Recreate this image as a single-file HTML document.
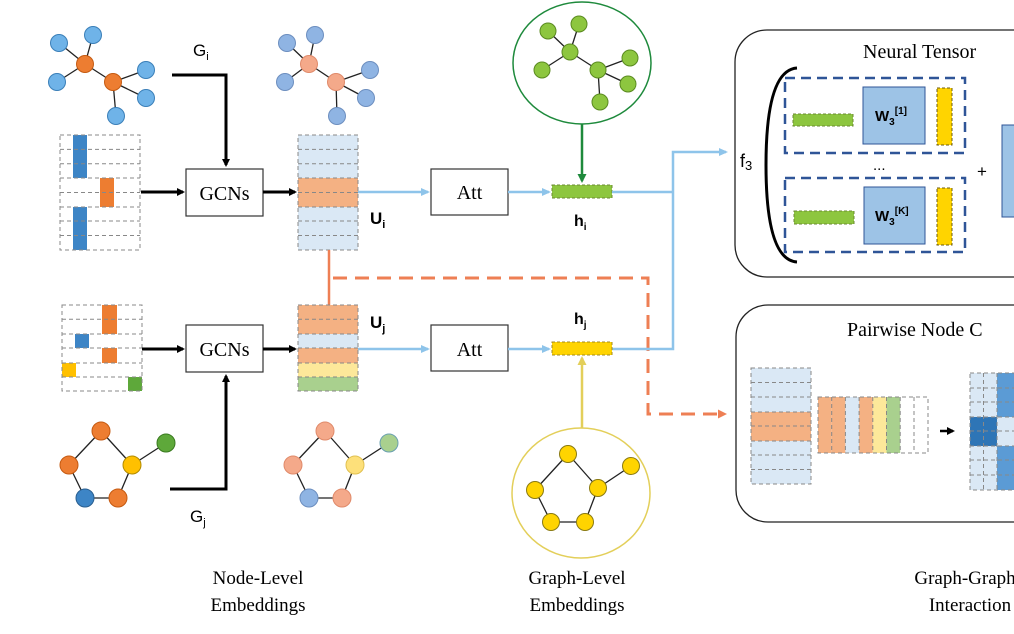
<!DOCTYPE html>
<html><head><meta charset="utf-8"><style>
html,body{margin:0;padding:0;background:#fff;width:1014px;height:634px;overflow:hidden}
svg{display:block}
.s{font-family:"Liberation Serif",serif}
.a{font-family:"Liberation Sans",sans-serif}
</style></head><body>
<svg width="1014" height="634" viewBox="0 0 1014 634" xmlns="http://www.w3.org/2000/svg">
<defs>
<marker id="ak" markerWidth="8" markerHeight="8" refX="6" refY="4" orient="auto" markerUnits="userSpaceOnUse"><path d="M0,0 L8,4 L0,8 z" fill="#000"/></marker>
<marker id="ab" markerWidth="9" markerHeight="8" refX="7" refY="4" orient="auto" markerUnits="userSpaceOnUse"><path d="M0,0 L9,4 L0,8 z" fill="#8ec4ea"/></marker>
<marker id="ag" markerWidth="9" markerHeight="9" refX="7" refY="4.5" orient="auto" markerUnits="userSpaceOnUse"><path d="M0,0 L9,4.5 L0,9 z" fill="#1e8a3c"/></marker>
<marker id="ay" markerWidth="9" markerHeight="9" refX="7" refY="4.5" orient="auto" markerUnits="userSpaceOnUse"><path d="M0,0 L9,4.5 L0,9 z" fill="#e3cf5a"/></marker>
<marker id="ao" markerWidth="9" markerHeight="9" refX="7" refY="4.5" orient="auto" markerUnits="userSpaceOnUse"><path d="M0,0 L9,4.5 L0,9 z" fill="#ee7f54"/></marker>
</defs>

<!-- top-left graph -->
<g stroke="#222" stroke-width="1.3">
<line x1="59" y1="43" x2="85" y2="64"/><line x1="93" y1="35" x2="85" y2="64"/><line x1="57" y1="82" x2="85" y2="64"/><line x1="85" y1="64" x2="113" y2="82"/><line x1="113" y1="82" x2="146" y2="70"/><line x1="113" y1="82" x2="146" y2="98"/><line x1="113" y1="82" x2="116" y2="116"/>
</g>
<g stroke="#3a7fb8" stroke-width="1" fill="#6fb3e8">
<circle cx="59" cy="43" r="8.5"/><circle cx="93" cy="35" r="8.5"/><circle cx="57" cy="82" r="8.5"/><circle cx="146" cy="70" r="8.5"/><circle cx="146" cy="98" r="8.5"/><circle cx="116" cy="116" r="8.5"/>
</g>
<g stroke="#c55a11" fill="#ed7d31"><circle cx="85" cy="64" r="8.5"/><circle cx="113" cy="82" r="8.5"/></g>

<!-- top-right graph -->
<g stroke="#222" stroke-width="1.3">
<line x1="287" y1="43" x2="309" y2="64"/><line x1="315" y1="35" x2="309" y2="64"/><line x1="285" y1="82" x2="309" y2="64"/><line x1="309" y1="64" x2="336" y2="82"/><line x1="336" y1="82" x2="370" y2="70"/><line x1="336" y1="82" x2="366" y2="98"/><line x1="336" y1="82" x2="337" y2="116"/>
</g>
<g stroke="#6c8ebf" fill="#8fb4e3">
<circle cx="287" cy="43" r="8.5"/><circle cx="315" cy="35" r="8.5"/><circle cx="285" cy="82" r="8.5"/><circle cx="370" cy="70" r="8.5"/><circle cx="366" cy="98" r="8.5"/><circle cx="337" cy="116" r="8.5"/>
</g>
<g stroke="#e08a6a" fill="#f4a98a"><circle cx="309" cy="64" r="8.5"/><circle cx="336" cy="82" r="8.5"/></g>

<!-- G_i -->
<text x="193" y="56" class="a" font-size="17">G<tspan font-size="11" dy="4">i</tspan></text>
<polyline points="172,75 226,75 226,165" fill="none" stroke="#000" stroke-width="3" marker-end="url(#ak)"/>

<!-- left top matrix -->
<g>
<rect x="73" y="135" width="14" height="43" fill="#3d85c6"/>
<rect x="73" y="207" width="14" height="43" fill="#3d85c6"/>
<rect x="100" y="178" width="14" height="29" fill="#ed7d31"/>
<g stroke="#888" stroke-dasharray="4,3" fill="none" stroke-width="1">
<rect x="60" y="135" width="80" height="115"/>
<line x1="60" y1="149.4" x2="140" y2="149.4"/><line x1="60" y1="163.8" x2="140" y2="163.8"/><line x1="60" y1="178" x2="140" y2="178"/><line x1="60" y1="192.5" x2="140" y2="192.5"/><line x1="60" y1="207" x2="140" y2="207"/><line x1="60" y1="221" x2="140" y2="221"/><line x1="60" y1="235.5" x2="140" y2="235.5"/>
</g>
</g>
<line x1="141" y1="192" x2="183" y2="192" stroke="#000" stroke-width="3" marker-end="url(#ak)"/>
<rect x="186" y="169" width="77" height="47" fill="#fff" stroke="#333" stroke-width="1.2"/>
<text x="224.5" y="200" class="s" font-size="20" text-anchor="middle">GCNs</text>
<line x1="263" y1="192" x2="295" y2="192" stroke="#000" stroke-width="3" marker-end="url(#ak)"/>

<!-- Ui matrix -->
<rect x="298" y="135" width="60" height="115" fill="#dae8f5"/>
<rect x="298" y="178" width="60" height="29" fill="#f4b183"/>
<g stroke="#888" stroke-dasharray="4,3" fill="none">
<rect x="298" y="135" width="60" height="115"/>
<line x1="298" y1="149.4" x2="358" y2="149.4"/><line x1="298" y1="163.8" x2="358" y2="163.8"/><line x1="298" y1="178" x2="358" y2="178"/><line x1="298" y1="192.5" x2="358" y2="192.5"/><line x1="298" y1="207" x2="358" y2="207"/><line x1="298" y1="221" x2="358" y2="221"/><line x1="298" y1="235.5" x2="358" y2="235.5"/>
</g>
<text x="370" y="224" class="a" font-size="17" font-weight="bold">U<tspan font-size="11" dy="4">i</tspan></text>

<!-- orange dashed -->
<line x1="329" y1="250" x2="329" y2="307" stroke="#ee7f54" stroke-width="2.5"/>
<polyline points="333,278 648,278 648,414 725,414" fill="none" stroke="#ee7f54" stroke-width="3" stroke-dasharray="14,8" marker-end="url(#ao)"/>

<!-- att top -->
<line x1="358" y1="192" x2="428" y2="192" stroke="#8ec4ea" stroke-width="2.5" marker-end="url(#ab)"/>
<rect x="431" y="169" width="77" height="46" fill="#fff" stroke="#333" stroke-width="1.2"/>
<text x="469.5" y="199" class="s" font-size="20" text-anchor="middle">Att</text>
<line x1="508" y1="192" x2="549" y2="192" stroke="#8ec4ea" stroke-width="2.5" marker-end="url(#ab)"/>
<rect x="552" y="185" width="60" height="13" fill="#8dc63f" stroke="#6a8a30" stroke-dasharray="3,2"/>
<text x="574" y="226" class="a" font-size="16" font-weight="bold">h<tspan font-size="10" dy="4">i</tspan></text>
<polyline points="612,192 673,192" fill="none" stroke="#8ec4ea" stroke-width="2.5"/>
<polyline points="612,349 673,349 673,152 726,152" fill="none" stroke="#8ec4ea" stroke-width="2.5" marker-end="url(#ab)"/>

<!-- green circle -->
<ellipse cx="582" cy="63" rx="69" ry="61" fill="#fff" stroke="#1e8a3c" stroke-width="1.5"/>
<g stroke="#222" stroke-width="1.3">
<line x1="548" y1="31" x2="570" y2="52"/><line x1="579" y1="24" x2="570" y2="52"/><line x1="542" y1="70" x2="570" y2="52"/><line x1="570" y1="52" x2="598" y2="70"/><line x1="598" y1="70" x2="630" y2="58"/><line x1="598" y1="70" x2="628" y2="84"/><line x1="598" y1="70" x2="600" y2="102"/>
</g>
<g fill="#8dc63f" stroke="#5a8a20">
<circle cx="548" cy="31" r="8"/><circle cx="579" cy="24" r="8"/><circle cx="542" cy="70" r="8"/><circle cx="570" cy="52" r="8"/><circle cx="598" cy="70" r="8"/><circle cx="630" cy="58" r="8"/><circle cx="628" cy="84" r="8"/><circle cx="600" cy="102" r="8"/>
</g>
<line x1="582" y1="124" x2="582" y2="181" stroke="#1e8a3c" stroke-width="2.5" marker-end="url(#ag)"/>

<!-- bottom left matrix -->
<rect x="102" y="305" width="15" height="29" fill="#ed7d31"/>
<rect x="75" y="334" width="14" height="14" fill="#3d85c6"/>
<rect x="102" y="348" width="15" height="15" fill="#ed7d31"/>
<rect x="62" y="363" width="14" height="14" fill="#ffc000"/>
<rect x="128" y="377" width="14" height="14" fill="#5ea83a"/>
<g stroke="#888" stroke-dasharray="4,3" fill="none">
<rect x="62" y="305" width="80" height="86"/>
<line x1="62" y1="319.3" x2="142" y2="319.3"/><line x1="62" y1="334" x2="142" y2="334"/><line x1="62" y1="348" x2="142" y2="348"/><line x1="62" y1="363" x2="142" y2="363"/><line x1="62" y1="377" x2="142" y2="377"/>
</g>
<line x1="142" y1="349" x2="183" y2="349" stroke="#000" stroke-width="3" marker-end="url(#ak)"/>
<rect x="186" y="325" width="77" height="47" fill="#fff" stroke="#333" stroke-width="1.2"/>
<text x="224.5" y="356" class="s" font-size="20" text-anchor="middle">GCNs</text>
<line x1="263" y1="349" x2="295" y2="349" stroke="#000" stroke-width="3" marker-end="url(#ak)"/>
<polyline points="170,489 226,489 226,376" fill="none" stroke="#000" stroke-width="3" marker-end="url(#ak)"/>
<text x="190" y="522" class="a" font-size="17">G<tspan font-size="11" dy="4">j</tspan></text>

<!-- Uj -->
<rect x="298" y="305" width="60" height="29" fill="#f4b183"/>
<rect x="298" y="334" width="60" height="14" fill="#dae8f5"/>
<rect x="298" y="348" width="60" height="15" fill="#f4b183"/>
<rect x="298" y="363" width="60" height="14" fill="#fde89a"/>
<rect x="298" y="377" width="60" height="14" fill="#a9d08e"/>
<g stroke="#888" stroke-dasharray="4,3" fill="none">
<rect x="298" y="305" width="60" height="86"/>
<line x1="298" y1="319.3" x2="358" y2="319.3"/><line x1="298" y1="334" x2="358" y2="334"/><line x1="298" y1="348" x2="358" y2="348"/><line x1="298" y1="363" x2="358" y2="363"/><line x1="298" y1="377" x2="358" y2="377"/>
</g>
<text x="370" y="328" class="a" font-size="17" font-weight="bold">U<tspan font-size="11" dy="4">j</tspan></text>

<line x1="358" y1="349" x2="428" y2="349" stroke="#8ec4ea" stroke-width="2.5" marker-end="url(#ab)"/>
<rect x="431" y="325" width="77" height="46" fill="#fff" stroke="#333" stroke-width="1.2"/>
<text x="469.5" y="356" class="s" font-size="20" text-anchor="middle">Att</text>
<line x1="508" y1="349" x2="549" y2="349" stroke="#8ec4ea" stroke-width="2.5" marker-end="url(#ab)"/>
<rect x="552" y="342" width="60" height="13" fill="#ffd400" stroke="#a08a20" stroke-dasharray="3,2"/>
<text x="574" y="324" class="a" font-size="16" font-weight="bold">h<tspan font-size="10" dy="4">j</tspan></text>
<line x1="582" y1="428" x2="582" y2="358" stroke="#e3cf5a" stroke-width="2.5" marker-end="url(#ay)"/>

<!-- yellow circle -->
<ellipse cx="581" cy="493" rx="69" ry="65" fill="#fff" stroke="#e3cf5a" stroke-width="1.5"/>
<g stroke="#222" stroke-width="1.3">
<line x1="568" y1="454" x2="535" y2="490"/><line x1="568" y1="454" x2="598" y2="488"/><line x1="598" y1="488" x2="631" y2="466"/><line x1="535" y1="490" x2="551" y2="522"/><line x1="551" y1="522" x2="585" y2="522"/><line x1="585" y1="522" x2="598" y2="488"/>
</g>
<g fill="#ffd400" stroke="#8a7a10">
<circle cx="568" cy="454" r="8.5"/><circle cx="631" cy="466" r="8.5"/><circle cx="535" cy="490" r="8.5"/><circle cx="598" cy="488" r="8.5"/><circle cx="551" cy="522" r="8.5"/><circle cx="585" cy="522" r="8.5"/>
</g>

<!-- bottom-left graph -->
<g stroke="#222" stroke-width="1.3">
<line x1="101" y1="431" x2="69" y2="465"/><line x1="101" y1="431" x2="132" y2="465"/><line x1="132" y1="465" x2="166" y2="443"/><line x1="69" y1="465" x2="85" y2="498"/><line x1="85" y1="498" x2="118" y2="498"/><line x1="118" y1="498" x2="132" y2="465"/>
</g>
<circle cx="101" cy="431" r="9" fill="#ed7d31" stroke="#c55a11"/>
<circle cx="166" cy="443" r="9" fill="#5ea83a" stroke="#3a7a20"/>
<circle cx="69" cy="465" r="9" fill="#ed7d31" stroke="#c55a11"/>
<circle cx="132" cy="465" r="9" fill="#ffc000" stroke="#b08a00"/>
<circle cx="85" cy="498" r="9" fill="#3d85c6" stroke="#2a5f90"/>
<circle cx="118" cy="498" r="9" fill="#ed7d31" stroke="#c55a11"/>

<!-- bottom-right graph -->
<g stroke="#222" stroke-width="1.3">
<line x1="325" y1="431" x2="293" y2="465"/><line x1="325" y1="431" x2="355" y2="465"/><line x1="355" y1="465" x2="389" y2="443"/><line x1="293" y1="465" x2="309" y2="498"/><line x1="309" y1="498" x2="342" y2="498"/><line x1="342" y1="498" x2="355" y2="465"/>
</g>
<circle cx="325" cy="431" r="9" fill="#f4a98a" stroke="#e08a6a"/>
<circle cx="389" cy="443" r="9" fill="#a9d08e" stroke="#6aa0b0"/>
<circle cx="293" cy="465" r="9" fill="#f4a98a" stroke="#e08a6a"/>
<circle cx="355" cy="465" r="9" fill="#fde07a" stroke="#e0c050"/>
<circle cx="309" cy="498" r="9" fill="#8fb4e3" stroke="#6c8ebf"/>
<circle cx="342" cy="498" r="9" fill="#f4a98a" stroke="#e08a6a"/>

<!-- bottom labels -->
<g class="s" font-size="19" text-anchor="middle">
<text x="258" y="584">Node-Level</text><text x="258" y="611">Embeddings</text>
<text x="577" y="584">Graph-Level</text><text x="577" y="611">Embeddings</text>
<text x="965" y="584">Graph-Graph</text><text x="970" y="611">Interaction</text>
</g>

<!-- Neural tensor box -->
<rect x="735" y="30" width="320" height="247" rx="32" fill="#fff" stroke="#222" stroke-width="1.3"/>
<text x="863" y="58" class="s" font-size="20">Neural Tensor</text>
<path d="M797,68 Q766,70 766,165 Q766,260 797,262" fill="none" stroke="#000" stroke-width="3"/>
<text x="740" y="167" class="a" font-size="18">f<tspan font-size="13" dy="3">3</tspan></text>
<rect x="785" y="78" width="180" height="75" fill="none" stroke="#2f5597" stroke-width="2.5" stroke-dasharray="10,6"/>
<rect x="785" y="178" width="180" height="74" fill="none" stroke="#2f5597" stroke-width="2.5" stroke-dasharray="10,6"/>
<rect x="793" y="114" width="60" height="12" fill="#8dc63f" stroke="#6a8a30" stroke-dasharray="3,2"/>
<rect x="863" y="87" width="62" height="57" fill="#9dc3e6" stroke="#2f5597"/>
<text x="875" y="121" class="a" font-size="15" font-weight="bold">W<tspan font-size="10" dy="4">3</tspan><tspan font-size="10" dy="-11">[1]</tspan></text>
<rect x="937" y="88" width="15" height="57" fill="#ffd400" stroke="#6a5a10" stroke-dasharray="3,2"/>
<text x="873" y="170" class="a" font-size="15">...</text>
<text x="977" y="177" class="a" font-size="17">+</text>
<rect x="1002" y="125" width="14" height="92" fill="#9dc3e6" stroke="#2f5597"/>
<rect x="794" y="211" width="60" height="13" fill="#8dc63f" stroke="#6a8a30" stroke-dasharray="3,2"/>
<rect x="864" y="187" width="61" height="57" fill="#9dc3e6" stroke="#2f5597"/>
<text x="875" y="221" class="a" font-size="15" font-weight="bold">W<tspan font-size="10" dy="4">3</tspan><tspan font-size="10" dy="-11">[K]</tspan></text>
<rect x="937" y="188" width="15" height="57" fill="#ffd400" stroke="#6a5a10" stroke-dasharray="3,2"/>

<!-- pairwise box -->
<rect x="736" y="305" width="320" height="217" rx="32" fill="#fff" stroke="#222" stroke-width="1.3"/>
<text x="847" y="336" class="s" font-size="20">Pairwise Node C</text>
<rect x="751" y="368" width="60" height="116" fill="#dae8f5"/>
<rect x="751" y="412" width="60" height="29" fill="#f4b183"/>
<g stroke="#888" stroke-dasharray="4,3" fill="none">
<rect x="751" y="368" width="60" height="116"/>
<line x1="751" y1="382.5" x2="811" y2="382.5"/><line x1="751" y1="397" x2="811" y2="397"/><line x1="751" y1="412" x2="811" y2="412"/><line x1="751" y1="426" x2="811" y2="426"/><line x1="751" y1="441" x2="811" y2="441"/><line x1="751" y1="455" x2="811" y2="455"/><line x1="751" y1="469.5" x2="811" y2="469.5"/>
</g>
<rect x="818" y="397" width="13.7" height="56" fill="#f4b183"/>
<rect x="831.7" y="397" width="13.7" height="56" fill="#f4b183"/>
<rect x="845.4" y="397" width="13.7" height="56" fill="#dae8f5"/>
<rect x="859.1" y="397" width="13.7" height="56" fill="#f4b183"/>
<rect x="872.8" y="397" width="13.7" height="56" fill="#fde89a"/>
<rect x="886.5" y="397" width="13.7" height="56" fill="#a9d08e"/>
<g stroke="#888" stroke-dasharray="4,3" fill="none">
<rect x="818" y="397" width="110" height="56"/>
<line x1="831.7" y1="397" x2="831.7" y2="453"/><line x1="845.4" y1="397" x2="845.4" y2="453"/><line x1="859.1" y1="397" x2="859.1" y2="453"/><line x1="872.8" y1="397" x2="872.8" y2="453"/><line x1="886.5" y1="397" x2="886.5" y2="453"/><line x1="900.2" y1="397" x2="900.2" y2="453"/><line x1="914" y1="397" x2="914" y2="453"/>
</g>
<line x1="940" y1="431" x2="953" y2="431" stroke="#000" stroke-width="2.5" marker-end="url(#ak)"/>
<rect x="970" y="373" width="27" height="117" fill="#dae8f5"/>
<rect x="970" y="417" width="27" height="29" fill="#2e75b6"/>
<rect x="997" y="373" width="17" height="117" fill="#5b9bd5"/>
<rect x="997" y="417" width="17" height="29" fill="#dae8f5"/>
<g stroke="#888" stroke-dasharray="4,3" fill="none">
<rect x="970" y="373" width="50" height="117"/>
<line x1="983.5" y1="373" x2="983.5" y2="490"/><line x1="997" y1="373" x2="997" y2="490"/>
<line x1="970" y1="388" x2="1014" y2="388"/><line x1="970" y1="402" x2="1014" y2="402"/><line x1="970" y1="417" x2="1014" y2="417"/><line x1="970" y1="431" x2="1014" y2="431"/><line x1="970" y1="446" x2="1014" y2="446"/><line x1="970" y1="460" x2="1014" y2="460"/><line x1="970" y1="475" x2="1014" y2="475"/>
</g>
</svg>
</body></html>
